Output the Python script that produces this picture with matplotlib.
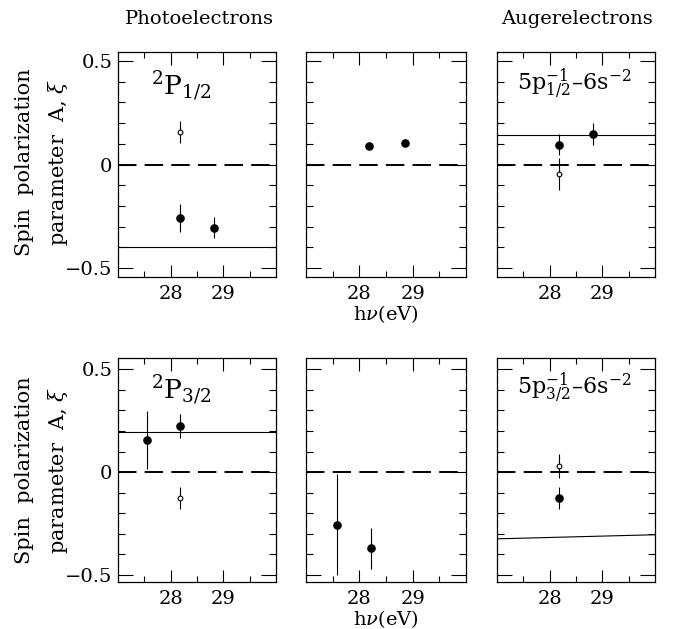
import matplotlib
matplotlib.use("Agg")
import matplotlib.pyplot as plt

plt.rcParams.update({
    'font.family': 'DejaVu Serif',
    'mathtext.fontset': 'dejavuserif',
    'font.size': 14,
})

# ---- data ----
# theory line end points are given at the x limits
theory_x = [27.0, 30.0]

# photoelectrons 2P1/2 (top left)
p12_full_x = [28.17, 28.82]
p12_full_y = [-0.26, -0.305]
p12_full_e = [0.068, 0.052]
p12_open_x = [28.17]
p12_open_y = [0.155]
p12_open_e = [0.053]
p12_theory = [-0.40, -0.40]

# photoelectrons, middle top
mid1_full_x = [28.19, 28.85]
mid1_full_y = [0.09, 0.105]
mid1_full_e = [0.015, 0.01]

# auger 5p1/2 (top right)
a12_full_x = [28.18, 28.83]
a12_full_y = [0.096, 0.147]
a12_full_e = [0.05, 0.053]
a12_open_x = [28.18]
a12_open_y = [-0.048]
a12_open_e = [0.077]
a12_theory = [0.143, 0.143]

# photoelectrons 2P3/2 (bottom left)
p32_full_x = [27.56, 28.17]
p32_full_y = [0.155, 0.224]
p32_full_e = [0.14, 0.057]
p32_open_x = [28.17]
p32_open_y = [-0.127]
p32_open_e = [0.055]
p32_theory = [0.195, 0.195]

# photoelectrons, middle bottom
mid2_full_x = [27.58, 28.22]
mid2_full_y = [-0.256, -0.371]
mid2_full_e = [0.245, 0.1]

# auger 5p3/2 (bottom right)
a32_full_x = [28.18]
a32_full_y = [-0.127]
a32_full_e = [0.053]
a32_open_x = [28.18]
a32_open_y = [0.028]
a32_open_e = [0.058]
a32_theory = [-0.325, -0.305]

fig = plt.figure(figsize=(6.75, 6.29), dpi=100)

lefts = [118 / 675, 306 / 675, 497 / 675]
widths = [158 / 675, 160 / 675, 158 / 675]
row_bottom = [1 - 277 / 629, 1 - 582 / 629]
row_height = [225 / 629, 224 / 629]
row_ylim = [(-0.543, 0.543), (-0.535, 0.555)]

panels = [
    [(p12_full_x, p12_full_y, p12_full_e), (p12_open_x, p12_open_y, p12_open_e), p12_theory],
    [(mid1_full_x, mid1_full_y, mid1_full_e), None, None],
    [(a12_full_x, a12_full_y, a12_full_e), (a12_open_x, a12_open_y, a12_open_e), a12_theory],
    [(p32_full_x, p32_full_y, p32_full_e), (p32_open_x, p32_open_y, p32_open_e), p32_theory],
    [(mid2_full_x, mid2_full_y, mid2_full_e), None, None],
    [(a32_full_x, a32_full_y, a32_full_e), (a32_open_x, a32_open_y, a32_open_e), a32_theory],
]

axes = []
for i, (full, opn, theo) in enumerate(panels):
    r, c = divmod(i, 3)
    ax = fig.add_axes([lefts[c], row_bottom[r], widths[c], row_height[r]])
    axes.append(ax)
    ax.set_xlim(27, 30)
    ax.set_ylim(*row_ylim[r])

    # zero line, long dashes
    ax.axhline(0, color='k', lw=1.4, dashes=(9.5, 4.2))
    if theo is not None:
        ax.plot(theory_x, theo, color='k', lw=0.8)

    ax.errorbar(full[0], full[1], yerr=full[2], fmt='o', color='k', ms=5.2,
                elinewidth=0.8, capsize=0, zorder=3)
    if opn is not None:
        ax.errorbar(opn[0], opn[1], yerr=opn[2], fmt='o', color='k', ms=3.4,
                    mfc='white', mew=0.8, elinewidth=0.8, capsize=0, zorder=3)

    ax.set_xticks([28, 29])
    ax.set_xticks([27.5, 28.5, 29.5], minor=True)
    ax.set_yticks([-0.5, 0, 0.5])
    ax.set_yticks([-0.4, -0.3, -0.2, -0.1, 0.1, 0.2, 0.3, 0.4], minor=True)
    ax.tick_params(which='both', direction='in', top=True, right=True, width=0.8)
    ax.tick_params(axis='y', which='major', length=11, pad=4)
    ax.tick_params(axis='y', which='minor', length=5)
    ax.tick_params(axis='x', which='major', length=9, pad=6)
    ax.tick_params(axis='x', which='minor', length=4)
    if c == 0:
        ax.set_yticklabels(['\u22120.5', '0', '0.5'])
    else:
        ax.set_yticklabels([])
    if c == 1:
        ax.set_xlabel(r'h$\nu$(eV)', labelpad=0)
    for s in ax.spines.values():
        s.set_linewidth(0.9)

axes[0].text(28.2, 0.38, r'$^2$P$_{1/2}$', fontsize=19, ha='center', va='center')
axes[3].text(28.2, 0.40, r'$^2$P$_{3/2}$', fontsize=19, ha='center', va='center')
axes[2].text(28.47, 0.39, r'5p$^{-1}_{1/2}$–6s$^{-2}$', fontsize=16, ha='center', va='center')
axes[5].text(28.47, 0.41, r'5p$^{-1}_{3/2}$–6s$^{-2}$', fontsize=16, ha='center', va='center')

fig.text(199 / 675, 1 - 19 / 629, 'Photoelectrons', fontsize=14, ha='center', va='center')
fig.text(577 / 675, 1 - 19 / 629, 'Augerelectrons', fontsize=14, ha='center', va='center')

for yc in [1 - 162 / 629, 1 - 470 / 629]:
    fig.text(25 / 675, yc, 'Spin  polarization', rotation=90, fontsize=15,
             ha='center', va='center')
    fig.text(58 / 675, yc, r'parameter  A, $\xi$', rotation=90, fontsize=15,
             ha='center', va='center')

fig.savefig('out.png', dpi=100)
